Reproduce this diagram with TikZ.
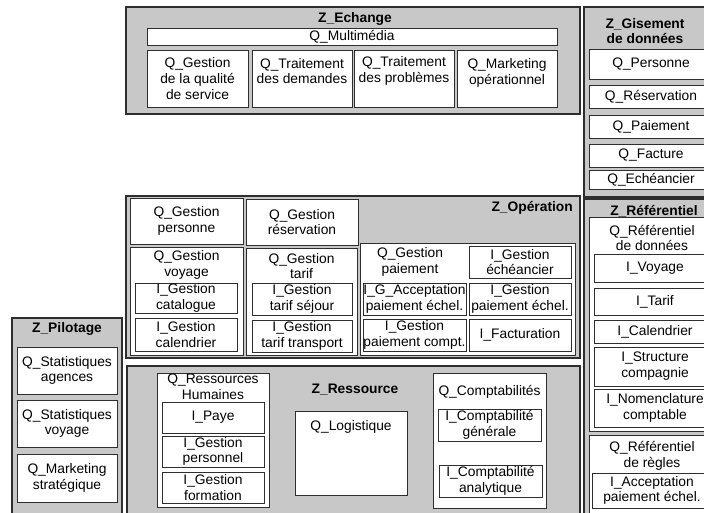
\documentclass[tikz,border=0pt]{standalone}
\usepackage{fontspec}
\setmainfont{Liberation Sans}
\usepackage{tikz}
\usetikzlibrary{positioning}
\definecolor{zonegray}{HTML}{C8C8C8}
\definecolor{edge}{HTML}{2E2E2E}
\tikzset{
  zone/.style={rectangle, draw=edge, fill=zonegray, line width=1.1pt, inner sep=0pt},
  cell/.style={rectangle, draw=edge, fill=white, line width=0.9pt, inner sep=0pt,
               font=\fontsize{13.8}{15.8}\selectfont, align=center},
  sz/.style 2 args={minimum width=#1pt, minimum height=#2pt},
  txt/.style={inner sep=0pt, font=\fontsize{13.8}{15.8}\selectfont, align=center},
  ztitle/.style={inner sep=0pt, font=\fontsize{13.8}{15.8}\selectfont\bfseries, align=center},
}

\begin{document}
\begin{tikzpicture}[x=1pt, y=-1pt]
    \useasboundingbox (0,0) rectangle (704,512);
    \clip (0,0) rectangle (704,512);

    %% --- Z_Echange ---
    \node[zone, sz={454}{107}] (ech) at (353,60.5) {};
    \node[ztitle] (ech_t) at (355,19) {Z\_Echange};
    \node[cell, sz={410}{17}] (ech_mm) at (352,36.5) {Q\_Multimédia};
    \node[cell, sz={101}{57}] (ech_qs) at (197.5,78.5) {Q\_Gestion\\de la qualité\\de service};
    \node[cell, sz={100}{57}] (ech_td) at (302,78.5) {};
    \node[txt] (ech_td_t) at (302,71) {Q\_Traitement\\des demandes};
    \node[cell, sz={100}{57}] (ech_tp) at (404,78.5) {};
    \node[txt] (ech_tp_t) at (404,71) {Q\_Traitement\\des problèmes};
    \node[cell, sz={100}{57}] (ech_mk) at (507,78.5) {};
    \node[txt] (ech_mk_t) at (507,73) {Q\_Marketing\\opérationnel};

    %% --- Z_Gisement de donnees ---
    \node[zone, sz={136}{190}] (gis) at (652,102) {};
    \node[ztitle] (gis_t) at (645,31) {Z\_Gisement\\de données};
    \node[cell, sz={124}{30}] (gis_pers) at (651,64) {Q\_Personne};
    \node[cell, sz={124}{23}] (gis_res) at (651,96.5) {Q\_Réservation};
    \node[cell, sz={124}{23}] (gis_pai) at (651,126.5) {Q\_Paiement};
    \node[cell, sz={124}{23}] (gis_fac) at (651,155.5) {Q\_Facture};
    \node[cell, sz={124}{19}] (gis_ech) at (651,179.5) {Q\_Echéancier};

    %% --- Z_Operation ---
    \node[zone, sz={454}{162}] (ope) at (353,277) {};
    \node[ztitle, anchor=east] (ope_t) at (573,208) {Z\_Opération};
    \node[cell, sz={113}{46}] (ope_pers) at (186.5,221) {Q\_Gestion\\personne};
    \node[cell, sz={112}{46}] (ope_res) at (302,222) {Q\_Gestion\\réservation};
    % voyage
    \node[cell, sz={113}{108}] (ope_voy) at (186.5,301) {};
    \node[txt] (ope_voy_t) at (186.5,265) {Q\_Gestion\\voyage};
    \node[cell, sz={102}{30}] (ope_cat) at (186,298) {I\_Gestion\\catalogue};
    \node[cell, sz={102}{33}] (ope_cal) at (186,334.5) {I\_Gestion\\calendrier};
    % tarif
    \node[cell, sz={111}{107}] (ope_tar) at (301.5,301.5) {};
    \node[txt] (ope_tar_t) at (301.5,266) {Q\_Gestion\\tarif};
    \node[cell, sz={100}{32}] (ope_sej) at (302,299) {I\_Gestion\\tarif séjour};
    \node[cell, sz={100}{32}] (ope_tra) at (302,336) {I\_Gestion\\tarif transport};
    % paiement
    \node[cell, sz={215}{112}] (ope_pai) at (467.5,299) {};
    \node[txt] (ope_pai_t) at (410,262) {Q\_Gestion\\paiement};
    \node[cell, sz={102}{32}] (ope_eche) at (520,262) {I\_Gestion\\échéancier};
    \node[cell, sz={103}{32}] (ope_acc) at (414.5,299) {I\_G\_Acceptation\\paiement échel.};
    \node[cell, sz={102}{32}] (ope_gpe) at (520,299) {I\_Gestion\\paiement échel.};
    \node[cell, sz={103}{32}] (ope_gpc) at (414.5,335) {I\_Gestion\\paiement compt.};
    \node[cell, sz={102}{32}] (ope_fac) at (520,335) {I\_Facturation};

    %% --- Z_Referentiel ---
    \node[zone, sz={136}{331}] (ref) at (652,364.5) {};
    \node[ztitle] (ref_t) at (654,211) {Z\_Référentiel};
    \node[cell, sz={127}{214}] (ref_don) at (652.5,324) {};
    \node[txt] (ref_don_t) at (652,238) {Q\_Référentiel\\de données};
    \node[cell, sz={122}{28}] (ref_voy) at (655,268) {I\_Voyage};
    \node[cell, sz={122}{27}] (ref_tar) at (655,301.5) {I\_Tarif};
    \node[cell, sz={122}{23}] (ref_cal) at (655,331.5) {I\_Calendrier};
    \node[cell, sz={122}{39}] (ref_str) at (655,366.5) {I\_Structure\\compagnie};
    \node[cell, sz={122}{38}] (ref_nom) at (655,408) {I\_Nomenclature\\comptable};
    \node[cell, sz={127}{90}] (ref_reg) at (652.5,480) {};
    \node[txt] (ref_reg_t) at (652,456) {Q\_Référentiel\\de règles};
    \node[cell, sz={120}{35}] (ref_acc) at (652,490.5) {I\_Acceptation\\paiement échel.};

    %% --- Z_Pilotage ---
    \node[zone, sz={110}{202}] (pil) at (67,419) {};
    \node[ztitle] (pil_t) at (67,329) {Z\_Pilotage};
    \node[cell, sz={100}{47}] (pil_ag) at (67,370.5) {Q\_Statistiques\\agences};
    \node[cell, sz={100}{47}] (pil_voy) at (67,423.5) {Q\_Statistiques\\voyage};
    \node[cell, sz={100}{48}] (pil_mk) at (67,478) {Q\_Marketing\\stratégique};

    %% --- Z_Ressource ---
    \node[zone, sz={453}{154}] (ress) at (353.5,443) {};
    \node[ztitle] (ress_t) at (355,390) {Z\_Ressource};
    \node[cell, sz={112}{134}] (ress_rh) at (213,440) {};
    \node[txt] (ress_rh_t) at (213,387) {Q\_Ressources\\Humaines};
    \node[cell, sz={102}{31}] (ress_paye) at (213,417.5) {I\_Paye};
    \node[cell, sz={102}{31}] (ress_pers) at (213,451.5) {I\_Gestion\\personnel};
    \node[cell, sz={102}{31}] (ress_form) at (213,487.5) {I\_Gestion\\formation};
    \node[cell, sz={112}{84}] (ress_log) at (351,453) {};
    \node[txt] (ress_log_t) at (351,427) {Q\_Logistique};
    \node[cell, sz={113}{135}] (ress_cpt) at (489.5,440.5) {};
    \node[txt] (ress_cpt_t) at (489.5,392) {Q\_Comptabilités};
    \node[cell, sz={103}{32}] (ress_gen) at (489.5,425) {I\_Comptabilité\\générale};
    \node[cell, sz={103}{32}] (ress_ana) at (490.5,481) {I\_Comptabilité\\analytique};
\end{tikzpicture}
\end{document}
